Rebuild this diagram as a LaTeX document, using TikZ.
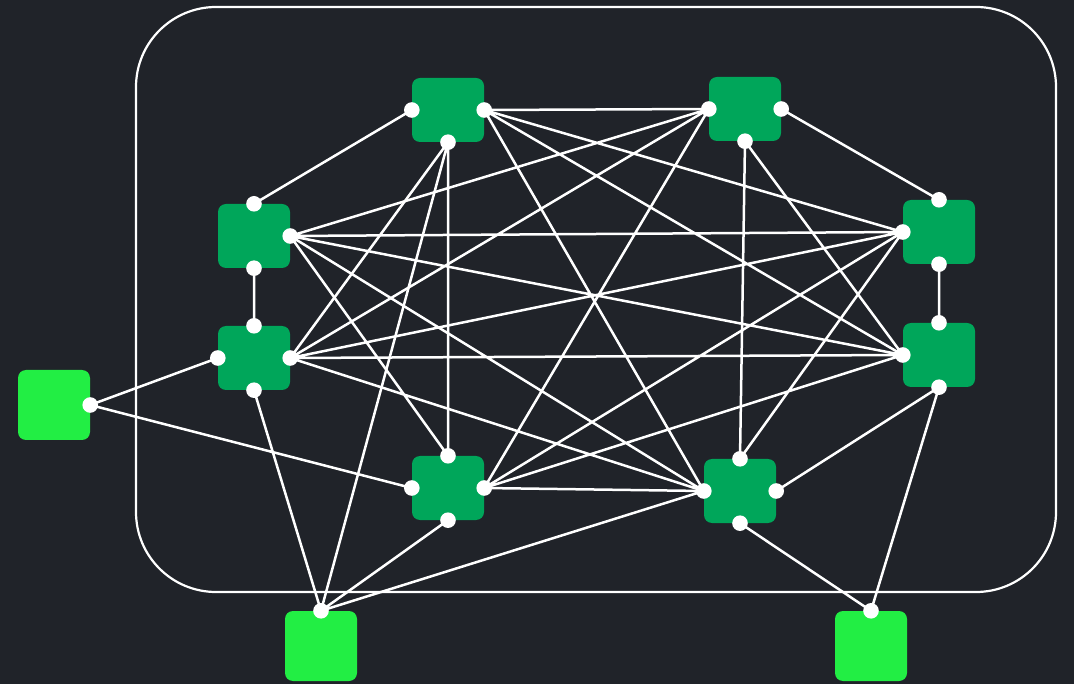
\documentclass[tikz,border=0pt]{standalone}
\usepackage{tikz}
\usepackage{xcolor}
\usetikzlibrary{positioning}

\definecolor{bg}{HTML}{202329}
\definecolor{leaf}{HTML}{00A65A}
\definecolor{host}{HTML}{22EE44}

\begin{document}
\begin{tikzpicture}[x=1pt, y=-1pt,
        sw/.style={rectangle, rounded corners=8pt, fill=leaf, minimum width=72pt, minimum height=64pt, inner sep=0pt},
        hs/.style={rectangle, rounded corners=8pt, fill=host, minimum width=72pt, minimum height=70pt, inner sep=0pt},
        link/.style={white, line width=2.5pt}]
        \fill[bg] (0, 0) rectangle (1074, 684);
        \useasboundingbox (0, 0) rectangle (1074, 684);
        \draw[white, line width=2.2pt, rounded corners=80pt] (136, 7) rectangle (1056, 592);

        \node[sw] (a) at (448, 110) {};
        \node[sw] (b) at (745, 109) {};
        \node[sw] (c) at (254, 236) {};
        \node[sw] (d) at (939, 232) {};
        \node[sw] (e) at (254, 358) {};
        \node[sw] (f) at (939, 355) {};
        \node[sw] (g) at (448, 488) {};
        \node[sw] (h) at (740, 491) {};
        \node[hs] (l) at (54, 405) {};
        \node[hs] (p) at (321, 646) {};
        \node[hs] (q) at (871, 646) {};

        \draw[link] (a.west) to (c.north)
            (a.east) to (b.west)
            (b.east) to (d.north)
            (c.south) to (e.north)
            (d.south) to (f.north)
            (f.south) to (h.east)
            (f.south) to (q.north)
            (h.south) to (q.north)
            (g.south) to (p.north)
            (e.south) to (p.north)
            (a.south) to (p.north)
            (h.west) to (p.north)
            (e.west) to (l.east)
            (l.east) to (g.west)
            (a.south) to (g.north)
            (a.south) to (e.east)
            (b.south) to (h.north)
            (b.south) to (f.west)
            (g.east) to (h.west);
        \draw[link] (a.east) to (d.west)
            (a.east) to (f.west)
            (a.east) to (h.west)
            (b.west) to (c.east)
            (b.west) to (e.east)
            (b.west) to (g.east)
            (c.east) to (d.west)
            (c.east) to (f.west)
            (c.east) to (h.west)
            (c.east) to (g.north)
            (d.west) to (e.east)
            (d.west) to (g.east)
            (d.west) to (h.north)
            (e.east) to (f.west)
            (e.east) to (h.west)
            (f.west) to (g.east);

        \foreach \p in {a.west, a.east, a.south, b.west, b.east, b.south,
                c.north, c.east, c.south, d.north, d.west, d.south,
                e.north, e.west, e.east, e.south, f.north, f.west, f.south,
                g.north, g.west, g.east, g.south, h.north, h.west, h.east, h.south,
                l.east, p.north, q.north}
            \fill[white] (\p) circle (7.8pt);
    \end{tikzpicture}
\end{document}
